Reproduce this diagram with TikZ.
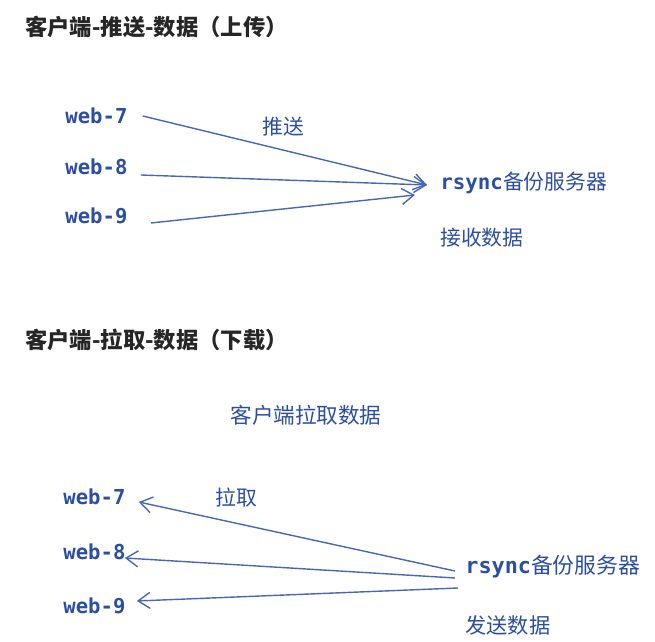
\documentclass[tikz,border=0pt]{standalone}
\usepackage{fontspec}
\setmainfont{Noto Sans CJK SC}
\newfontfamily\webfont{DejaVu Sans Mono}
\usepackage{tikz}
\usetikzlibrary{arrows.meta,positioning}
\usepackage{xcolor}
\definecolor{penblue}{RGB}{44,78,162}
\definecolor{lineblue}{RGB}{72,104,182}

\tikzset{
  heading/.style={anchor=west, font=\fontsize{11.15}{13}\selectfont\bfseries, text=black!85},
  host/.style={anchor=west, font=\fontsize{10.3}{12}\selectfont\webfont\bfseries, text=penblue},
  note/.style={anchor=west, font=\fontsize{10.4}{12}\selectfont, text=penblue},
  flow/.style={draw=lineblue, line width=0.7pt, -{Straight Barb[length=6pt,width=8pt,line width=0.7pt]}}
}

\begin{document}
\begin{tikzpicture}[x=0.5pt, y=-0.5pt, every node/.style={inner sep=2.5pt}]
\useasboundingbox (0,0) rectangle (655,642);

% push: clients upload
\node[heading] (h1) at (20,27) {客户端-推送-数据（上传）};
\node[host] (a7) at (60,116) {web-7};
\node[host] (a8) at (60,167) {web-8};
\node[host] (a9) at (60,216) {web-9};
\node[note] (push) at (257,127) {推送};
\node[note] (srvA) at (435,183) {{\webfont\bfseries rsync}备份服务器};
\node[note] (recv) at (435,238) {接收数据};
\coordinate (inA) at ([shift={(-20,12)}]srvA.west);
\draw[flow] ([xshift=5pt]a7.east) -- ([xshift=-4pt,yshift=-1pt]srvA.west);
\draw[flow] ([xshift=4pt,yshift=-4pt]a8.east) -- ([xshift=-4pt,yshift=-1pt]srvA.west);
\draw[flow] ([xshift=9pt,yshift=-3.5pt]a9.east) -- (inA);

% pull: clients download
\node[heading] (h2) at (20,340) {客户端-拉取-数据（下载）};
\node[note, font=\fontsize{10.8}{12}\selectfont] (pull) at (225,415) {客户端拉取数据};
\node[host] (b7) at (58,497) {web-7};
\node[host] (b8) at (58,552) {web-8};
\node[host] (b9) at (58,606) {web-9};
\node[note] (pullA) at (210,498) {拉取};
\node[note, font=\fontsize{10.9}{12}\selectfont] (srvB) at (460,567) {{\webfont\bfseries rsync}备份服务器};
\node[note, font=\fontsize{10.6}{12}\selectfont] (send) at (460,625) {发送数据};
\draw[flow] ([xshift=-2.5pt,yshift=-2pt]srvB.west) -- ([xshift=4pt,yshift=-2.5pt]b7.east);
\draw[flow] ([xshift=-2.5pt,yshift=-5.5pt]srvB.west) -- ([xshift=-3pt,yshift=-3pt]b8.east);
\draw[flow] ([xshift=-1pt,yshift=-10.5pt]srvB.west) -- ([xshift=3pt,yshift=2.5pt]b9.east);
\end{tikzpicture}
\end{document}
